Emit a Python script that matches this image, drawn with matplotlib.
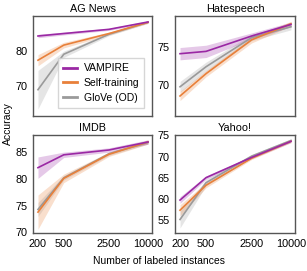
import matplotlib
matplotlib.use('Agg')
import matplotlib.pyplot as plt

plt.rcParams['font.family'] = ['Liberation Sans', 'DejaVu Sans']

# number of labeled instances
x = [200, 500, 2500, 10000]
x_labels = ['200', '500', '2500', '10000']

# mean accuracy and half-width of the shaded band, per dataset
ag_vampire = [84.3, 85.0, 86.2, 88.3]
ag_vampire_err = [0.5, 0.4, 0.3, 0.3]
ag_self = [77.4, 81.7, 85.0, 88.2]
ag_self_err = [1.6, 0.8, 0.4, 0.3]
ag_glove = [69.0, 79.1, 84.8, 88.2]
ag_glove_err = [5.5, 0.9, 0.4, 0.3]

hate_vampire = [74.1, 74.4, 76.4, 77.9]
hate_vampire_err = [0.8, 0.8, 0.4, 0.3]
hate_self = [68.6, 71.5, 75.9, 78.0]
hate_self_err = [0.6, 0.4, 0.4, 0.3]
hate_glove = [69.8, 72.4, 76.2, 77.6]
hate_glove_err = [0.7, 0.6, 0.4, 0.4]

imdb_vampire = [82.1, 84.5, 85.4, 86.9]
imdb_vampire_err = [2.0, 0.5, 0.4, 0.4]
imdb_self = [73.8, 80.1, 84.6, 86.9]
imdb_self_err = [3.2, 0.8, 0.4, 0.4]
imdb_glove = [74.3, 80.2, 84.7, 86.8]
imdb_glove_err = [1.3, 0.4, 0.3, 0.3]

yahoo_vampire = [59.7, 65.0, 69.8, 73.6]
yahoo_vampire_err = [0.8, 0.4, 0.3, 0.3]
yahoo_self = [57.3, 63.2, 69.6, 73.6]
yahoo_self_err = [1.3, 0.6, 0.3, 0.3]
yahoo_glove = [55.1, 63.8, 70.1, 73.8]
yahoo_glove_err = [2.0, 0.7, 0.4, 0.4]

names = ['VAMPIRE', 'Self-training', 'GloVe (OD)']
colors = ['#9a28a4', '#e8803a', '#9a9a9a']

panels = [
    ('AG News', [ag_vampire, ag_self, ag_glove], [ag_vampire_err, ag_self_err, ag_glove_err],
     (61.5, 90), [70, 80]),
    ('Hatespeech', [hate_vampire, hate_self, hate_glove], [hate_vampire_err, hate_self_err, hate_glove_err],
     (66, 79), [70, 75]),
    ('IMDB', [imdb_vampire, imdb_self, imdb_glove], [imdb_vampire_err, imdb_self_err, imdb_glove_err],
     (69.9, 88.2), [70, 75, 80, 85]),
    ('Yahoo!', [yahoo_vampire, yahoo_self, yahoo_glove], [yahoo_vampire_err, yahoo_self_err, yahoo_glove_err],
     (51.9, 75.1), [55, 60, 65, 70, 75]),
]

W, H = 307, 271
fig = plt.figure(figsize=(W / 100, H / 100), dpi=100)
fs = 7.5

boxes = [(33, 152, 16, 116), (175, 295, 16, 116), (33, 152, 135, 233), (175, 295, 135, 233)]

for i, ((title, ys, errs, ylim, yticks), (l, r, t, b)) in enumerate(zip(panels, boxes)):
    ax = fig.add_axes([l / W, (H - b) / H, (r - l) / W, (b - t) / H])
    # draw gray first so purple sits on top
    for k in [2, 1, 0]:
        lo = [m - e for m, e in zip(ys[k], errs[k])]
        hi = [m + e for m, e in zip(ys[k], errs[k])]
        ax.fill_between(x, lo, hi, color=colors[k], alpha=0.25, linewidth=0)
        ax.plot(x, ys[k], color=colors[k], lw=1.2, label=names[k])
    ax.set_xscale('log')
    ax.set_xlim(200 / 10 ** 0.077, 10000 * 10 ** 0.062)
    ax.set_ylim(*ylim)
    ax.set_yticks(yticks)
    ax.set_xticks(x)
    ax.minorticks_off()
    ax.tick_params(length=0, labelsize=fs + 0.3, pad=4)
    if i < 2:
        ax.set_xticklabels([])
    else:
        ax.set_xticklabels(x_labels)
    ax.set_title(title, fontsize=fs + 0.3, pad=3)
    for s in ax.spines.values():
        s.set_color('#555555')
        s.set_linewidth(1.0)
    if i == 0:
        handles, labels = ax.get_legend_handles_labels()
        leg = ax.legend(handles[::-1], labels[::-1], loc='lower right', fontsize=fs,
                        handlelength=1.4, handletextpad=0.6, borderpad=0.5, labelspacing=0.45,
                        fancybox=False, edgecolor='#cccccc', bbox_to_anchor=(0.98, 0.03))
        for line in leg.get_lines():
            line.set_linewidth(2)

fig.text(8 / W, 1 - 124 / H, 'Accuracy', rotation=90, ha='center', va='center', fontsize=fs)
fig.text(159 / W, 1 - 261 / H, 'Number of labeled instances', ha='center', va='center', fontsize=fs)

fig.savefig('out.png', dpi=100)
